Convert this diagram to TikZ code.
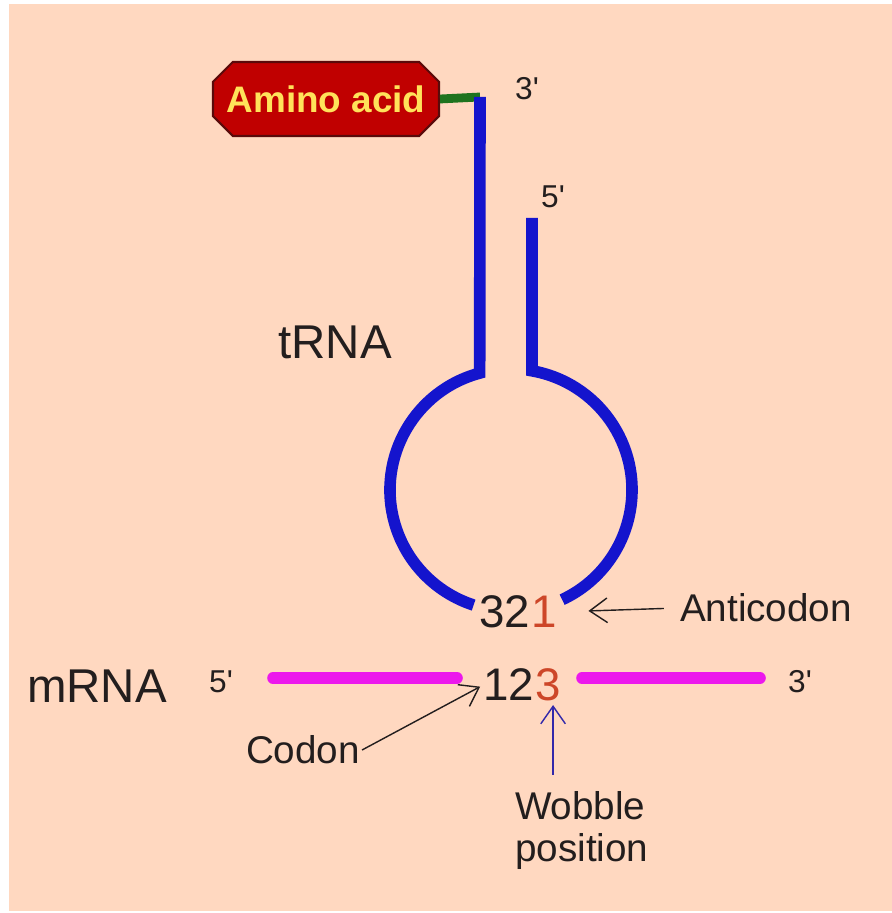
\documentclass[tikz,border=0pt]{standalone}
\usepackage{fontspec}
\setmainfont{Liberation Sans}
\usetikzlibrary{arrows.meta,positioning,calc,shapes.misc}
\definecolor{peach}{RGB}{255,216,192}
\definecolor{aared}{RGB}{192,0,0}
\definecolor{aaedge}{RGB}{90,10,10}
\definecolor{aatext}{RGB}{255,226,90}
\definecolor{rnablue}{RGB}{20,20,205}
\definecolor{mrnapink}{RGB}{236,24,236}
\definecolor{linkgreen}{RGB}{30,115,30}
\definecolor{wobred}{RGB}{205,70,40}
\definecolor{wobblue}{RGB}{50,40,170}
\definecolor{ink}{RGB}{35,30,30}
\newcommand{\pr}{\textquotesingle}
\tikzset{
  aabox/.style={chamfered rectangle,chamfered rectangle xsep=9pt,inner sep=0pt,draw=aaedge,fill=aared,line width=1.2pt,text=aatext,font=\fontsize{21}{21}\selectfont\bfseries,minimum height=1.48cm},
  rnaline/.style={rnablue,line width=6.6pt},
  mline/.style={mrnapink,line width=6.6pt,line cap=round},
  link/.style={linkgreen,line width=5pt},
  lbl/.style={text=ink,font=\fontsize{22}{24}\selectfont,inner sep=1pt},
  biglbl/.style={text=ink,font=\fontsize{27}{27}\selectfont,inner sep=1pt},
  endlbl/.style={text=ink,font=\fontsize{18}{18}\selectfont,inner sep=1pt},
  digit/.style={text=ink,font=\fontsize{26}{26}\selectfont,inner sep=0pt},
  arr/.style={-{Straight Barb[length=10pt,width=14pt]},ink,line width=0.8pt},
  warr/.style={arr,wobblue}
}

\begin{document}
\begin{tikzpicture}[x=0.02cm,y=0.02cm]
  \fill[white] (0,0) rectangle (892,913);
  \fill[peach] (9,2) rectangle (892,909);
  \useasboundingbox (0,0) rectangle (892,913);

  \node[aabox] (amino) at (326,814) {Amino acid};
  \coordinate (top3) at (480,816);
  \coordinate (top5) at (532,695);
  \coordinate (ctr) at (511,423);

  \draw[link] (amino.east) -- (top3);
  \draw[rnaline] (top3) -- ($(ctr)+(105:121)$) arc[start angle=105,end angle=252,radius=121];
  \draw[rnaline] (top5) -- ($(ctr)+(80:121)$) arc[start angle=80,end angle=-65,radius=121];

  \node[endlbl] (p3) at (527,824) {3\pr};
  \node[endlbl] (p5) at (553,716) {5\pr};
  \node[biglbl] (trna) at (335,571) {tRNA};

  \node[digit] (anti32) at (505,301) {32};
  \node[digit,text=wobred,right=0pt of anti32] (anti1) {1};
  \node[lbl] (anticodon) at (766,305) {Anticodon};
  \draw[arr,shorten <=8pt,shorten >=18pt] (anticodon.west) -- (anti1.east);

  \node[biglbl] (mrna) at (97,227) {mRNA};
  \node[endlbl] (m5) at (221,231) {5\pr};
  \node[endlbl] (m3) at (800,231) {3\pr};
  \node[digit] (cod12) at (509,228) {12};
  \node[digit,text=wobred,right=0pt of cod12] (cod3) {3};
  \draw[mline] (273,235) -- (457,235);
  \draw[mline] (582,235) -- (760,235);

  \node[lbl] (codon) at (303,163) {Codon};
  \draw[arr,shorten >=2pt] (codon.east) -- (cod12.west);

  \node[lbl,align=left,anchor=north west] (wob) at (513,124) {Wobble\\position};
  \draw[warr,shorten <=8pt,shorten >=2pt] ([xshift=3pt]cod3.south |- wob.north) -- ([xshift=3pt]cod3.south);
\end{tikzpicture}
\end{document}
